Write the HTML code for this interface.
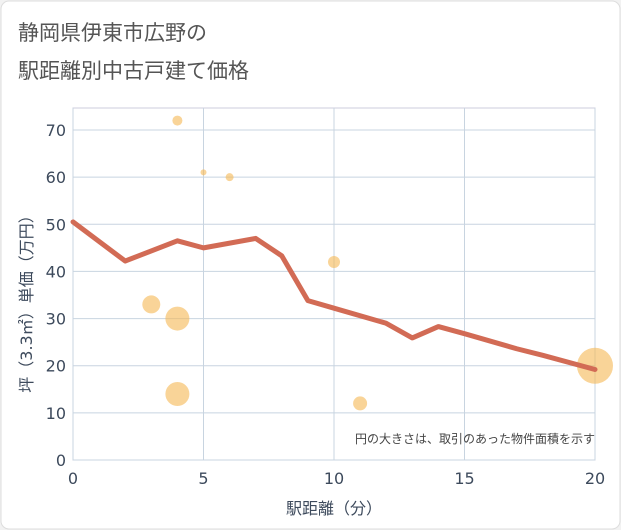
<!DOCTYPE html>
<html><head><meta charset="utf-8"><style>
body{margin:0;background:#fff;font-family:"DejaVu Sans","Noto Sans CJK JP",sans-serif;}
#wrap{position:relative;width:621px;height:530px;background:#f2f2f2;}
</style></head><body>
<div id="wrap">
<svg id="c" width="621" height="530" style="position:absolute;left:0;top:0">
<rect x="1" y="1" width="619" height="528" rx="8" fill="#ffffff" stroke="#dddddd"/>
<text x="18" y="40" font-size="21" fill="#555">静岡県伊東市広野の</text>
<text x="18" y="78" font-size="21" fill="#555">駅距離別中古戸建て価格</text>
<rect x="73" y="108" width="522" height="352" fill="#fff" stroke="#ccd"/>
<g id="grid"></g><g id="marks"></g><g id="axes"></g>
<text x="595" y="443" font-size="12" fill="#444" text-anchor="end">円の大きさは、取引のあった物件面積を示す</text>
<text x="334" y="514" font-size="16" fill="#3d4a5c" text-anchor="middle">駅距離（分）</text>
<text transform="translate(32,300) rotate(-90)" font-size="16" fill="#3d4a5c" text-anchor="middle">坪（3.3㎡）単価（万円）</text>
</svg>
</div>
<script>
const xTicks=[0,5,10,15,20];
const yTicks=[0,10,20,30,40,50,60,70];
const lineX=[0,2,4,5,7,8,9,10,12,13,14,15,17,18,20];
const lineY=[50.5,42.2,46.5,45,47,43.3,33.8,32.2,29,25.9,28.3,26.8,23.6,22.2,19.2];
const bubX=[4,5,6,10,3,4,4,11,20];
const bubY=[72,61,60,42,33,30,14,12,20];
const bubR=[5,3,4,6,9,12,12,7,18];
const NS="http://www.w3.org/2000/svg";
const sx=v=>73+v*(522/20), sy=v=>460-v*(330/70);
function mk(t,a,p){const e=document.createElementNS(NS,t);for(const k in a)e.setAttribute(k,a[k]);p.appendChild(e);return e;}
const g=document.getElementById('grid'),m=document.getElementById('marks'),ax=document.getElementById('axes');
xTicks.forEach(v=>{
 const l=mk('line',{x1:sx(v),x2:sx(v),y1:108,y2:460,stroke:'#c8d4e0'},g);
 
 const t=mk('text',{x:sx(v),y:484,'font-size':16,fill:'#3d4a5c','text-anchor':'middle'},ax);t.textContent=v;
 
});
yTicks.forEach(v=>{
 const l=mk('line',{x1:73,x2:595,y1:sy(v),y2:sy(v),stroke:'#c8d4e0'},g);
 
 const t=mk('text',{x:66,y:sy(v)+6,'font-size':16,fill:'#3d4a5c','text-anchor':'end'},ax);t.textContent=v;
 
});
bubX.forEach((v,i)=>{
 const c=mk('circle',{cx:sx(v),cy:sy(bubY[i]),r:bubR[i],fill:'#f5b754','fill-opacity':0.6},m);
 
});
const p=mk('polyline',{points:lineX.map((v,i)=>sx(v)+','+sy(lineY[i])).join(' '),fill:'none',stroke:'#d26b55','stroke-width':5,'stroke-linejoin':'round','stroke-linecap':'round'},m);

</script>
</body></html>
